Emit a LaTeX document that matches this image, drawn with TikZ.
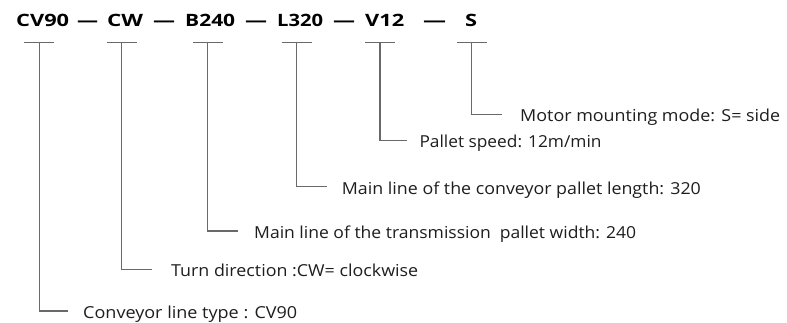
\documentclass[tikz,border=0pt]{standalone}
\usepackage{fontspec}
\setmainfont{Open Sans}
\usepackage{graphicx}
\definecolor{linegray}{RGB}{105,105,105}
\definecolor{textdark}{RGB}{30,30,30}
\newcommand\fitw[2]{\resizebox{#1pt}{\height}{#2}}
\tikzset{
  conn/.style={draw=linegray, line width=1.2pt},
  code/.style={anchor=base west, inner sep=0pt, font=\fontsize{17}{20}\selectfont\bfseries, text=black},
  desc/.style={anchor=base west, inner sep=0pt, font=\fontsize{16.5}{20}\selectfont, text=textdark},
}
\begin{document}
\begin{tikzpicture}[x=1pt,y=-1pt]
\fill[white] (0,0) rectangle (787,323);
\useasboundingbox (0,0) rectangle (787,323);
% codes
\node[code] (k1) at (16,26.7) {\fitw{53}{CV90}};
\node[code] (s1) at (77,26.7) {\fitw{21}{—}};
\node[code] (k2) at (107,26.7) {\fitw{36}{CW}};
\node[code] (s2) at (153,26.7) {\fitw{22}{—}};
\node[code] (k3) at (185,26.7) {\fitw{50}{B240}};
\node[code] (s3) at (245,26.7) {\fitw{22}{—}};
\node[code] (k4) at (277,26.7) {\fitw{46}{L320}};
\node[code] (s4) at (333,26.7) {\fitw{22}{—}};
\node[code] (k5) at (365,26.7) {\fitw{39}{V12}};
\node[code] (s5) at (423,26.7) {\fitw{23}{—}};
\node[code] (k6) at (465,26.7) {\fitw{12}{S}};
% T-bar tops
\coordinate (t1) at (39.3,42.7);
\coordinate (t2) at (121.7,42.7);
\coordinate (t3) at (207.7,42.7);
\coordinate (t4) at (296.7,42.7);
\coordinate (t5) at (380,42.7);
\coordinate (t6) at (471.5,42.7);
% descriptions
\node[desc] (d6) at (520,121.7) {\fitw{260}{Motor mounting mode: S= side}};
\node[desc] (d5) at (419.3,148) {\fitw{182}{Pallet speed: 12m/min}};
\node[desc] (d4) at (341.7,194) {\fitw{359}{Main line of the conveyor pallet length: 320}};
\node[desc] (d3) at (254,238.3) {\fitw{382}{Main line of the transmission\hspace{0.25em} pallet width: 240}};
\node[desc] (d2) at (171,276.6) {\fitw{247}{Turn direction :CW= clockwise}};
\node[desc] (d1) at (83,318.3) {\fitw{214}{Conveyor line type : CV90}};
% line ends
\coordinate (e6) at (501.7,114.3);
\coordinate (e5) at (406.7,140.7);
\coordinate (e4) at (326.7,186.7);
\coordinate (e3) at (238,231);
\coordinate (e2) at (152,269.3);
\coordinate (e1) at (68,311);
% connectors
\foreach \i in {1,...,6}{
  \draw[conn] ([xshift=-15pt]t\i) -- ([xshift=15pt]t\i);
  \draw[conn] (t\i) |- (e\i);
}
\end{tikzpicture}
\end{document}
